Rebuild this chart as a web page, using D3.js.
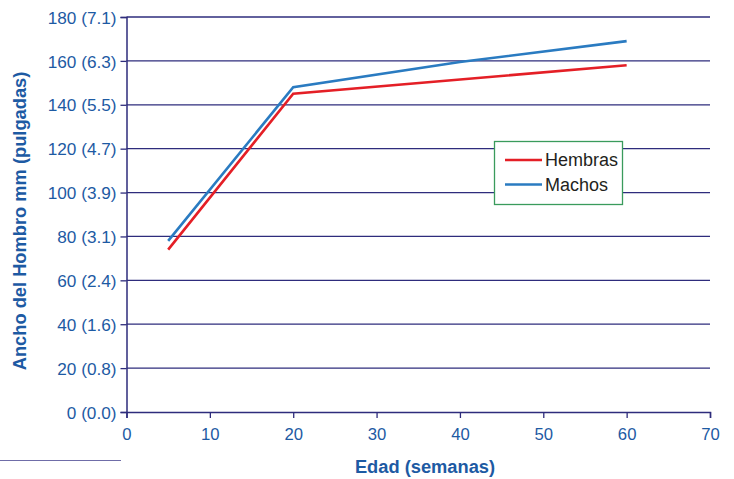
<!DOCTYPE html>
<html>
<head>
<meta charset="utf-8">
<script src="https://cdn.jsdelivr.net/npm/d3@7"></script>
<style>
  html, body { margin: 0; padding: 0; background: #fff; }
  svg { display: block; }
  text { font-family: "Liberation Sans", Arial, Helvetica, sans-serif; }
</style>
</head>
<body>
<svg id="chart" width="734" height="479"></svg>
<script>
// Shoulder width by age (mm), with inch equivalents on the y tick labels
const hembrasWeeks = [5, 20, 60];
const hembrasValues = [74, 145, 158];
const machosWeeks = [5, 20, 40, 60];
const machosValues = [78, 148, 159.5, 169];
const xTicks = [0, 10, 20, 30, 40, 50, 60, 70];
const yTicks = [0, 20, 40, 60, 80, 100, 120, 140, 160, 180];
const yTickLabels = ["0 (0.0)", "20 (0.8)", "40 (1.6)", "60 (2.4)", "80 (3.1)",
                     "100 (3.9)", "120 (4.7)", "140 (5.5)", "160 (6.3)", "180 (7.1)"];
const seriesNames = ["Hembras", "Machos"];
const seriesColors = ["#e41f26", "#2a7bc1"];

const svg = d3.select("#chart");
const axisColor = "#2e2c7c";
const labelColor = "#1d5aa3";

const x = d3.scaleLinear().domain([0, 70]).range([126.5, 710]);
const y = d3.scaleLinear().domain([0, 180]).range([412, 17]);

// horizontal grid lines
svg.append("g")
  .selectAll("line")
  .data(yTicks.filter(d => d > 0))
  .join("line")
  .attr("x1", x(0)).attr("x2", x(70))
  .attr("y1", d => y(d)).attr("y2", d => y(d))
  .attr("stroke", axisColor).attr("stroke-width", 1.3);

// y axis
const yAxis = svg.append("g")
  .attr("transform", `translate(${x(0)},0)`)
  .call(d3.axisLeft(y).tickValues(yTicks)
    .tickFormat((d, i) => yTickLabels[i]).tickSizeOuter(0).tickSize(6).tickPadding(4));
yAxis.select(".domain").attr("stroke", axisColor).attr("stroke-width", 1.5);
yAxis.selectAll(".tick line").attr("stroke", axisColor).attr("stroke-width", 1.3);
yAxis.selectAll(".tick text").attr("fill", labelColor)
  .style("font-size", "17.2px").attr("dy", "0.36em");

// x axis
const xAxis = svg.append("g")
  .attr("transform", `translate(0,${y(0)})`)
  .call(d3.axisBottom(x).tickValues(xTicks).tickSizeOuter(0).tickSize(6).tickPadding(10));
xAxis.select(".domain").attr("stroke", axisColor).attr("stroke-width", 1.5);
xAxis.selectAll(".tick line").attr("stroke", axisColor).attr("stroke-width", 1.3);
xAxis.selectAll(".tick text").attr("fill", labelColor).style("font-size", "16.7px");

// axis titles
svg.append("text")
  .attr("x", 425).attr("y", 473)
  .attr("text-anchor", "middle")
  .attr("fill", labelColor)
  .style("font-size", "18.3px").style("font-weight", "bold")
  .text("Edad (semanas)");

svg.append("text")
  .attr("transform", "translate(26,221) rotate(-90)")
  .attr("text-anchor", "middle")
  .attr("fill", labelColor)
  .style("font-size", "18.3px").style("font-weight", "bold")
  .text("Ancho del Hombro mm (pulgadas)");

// short rule under the y axis labels
svg.append("line")
  .attr("x1", 0).attr("x2", 121).attr("y1", 460.5).attr("y2", 460.5)
  .attr("stroke", "#6f6da8").attr("stroke-width", 1.2);

// data lines
const line = d3.line().x(d => x(d[0])).y(d => y(d[1]));
const seriesData = [
  d3.zip(hembrasWeeks, hembrasValues),
  d3.zip(machosWeeks, machosValues)
];
svg.append("g")
  .selectAll("path")
  .data(seriesData)
  .join("path")
  .attr("d", line)
  .attr("fill", "none")
  .attr("stroke", (d, i) => seriesColors[i])
  .attr("stroke-width", 2.6)
  .attr("stroke-linejoin", "miter");

// legend
const legend = svg.append("g");
legend.append("rect")
  .attr("x", 494.5).attr("y", 141.5).attr("width", 128).attr("height", 63)
  .attr("fill", "#fff").attr("stroke", "#3a9b5c").attr("stroke-width", 1.3);
const items = legend.selectAll("g.item")
  .data(seriesNames)
  .join("g")
  .attr("transform", (d, i) => `translate(505,${160 + i * 24.5})`);
items.append("line")
  .attr("x1", 0).attr("x2", 37)
  .attr("stroke", (d, i) => seriesColors[i]).attr("stroke-width", 2.6);
items.append("text")
  .attr("x", 40).attr("dy", "0.36em")
  .attr("fill", "#231f20")
  .style("font-size", "18px")
  .text(d => d);
</script>
</body>
</html>
